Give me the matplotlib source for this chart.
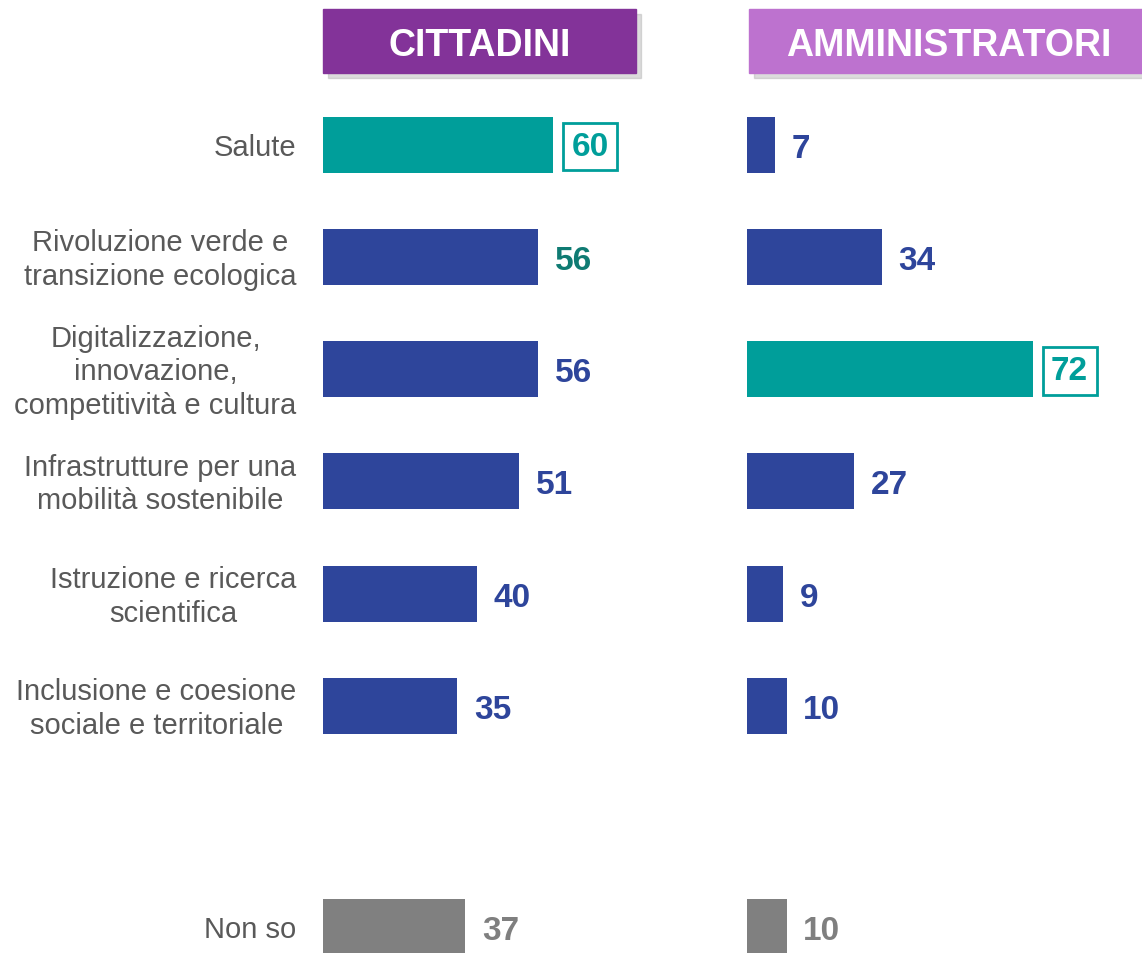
import numpy as np
import matplotlib.pyplot as plt
from matplotlib.patches import Rectangle

plt.rcParams['font.family'] = ['Liberation Sans', 'DejaVu Sans']

categories = ["Salute",
              "Rivoluzione verde e\ntransizione ecologica",
              "Digitalizzazione,\ninnovazione,\ncompetitività e cultura",
              "Infrastrutture per una\nmobilità sostenibile",
              "Istruzione e ricerca\nscientifica",
              "Inclusione e coesione\nsociale e territoriale",
              "Non so"]
positions = [0, 1, 2, 3, 4, 5, 6.97]
cittadini = [60, 56, 56, 51, 40, 35, 37]
amministratori = [7, 34, 72, 27, 9, 10, 10]

TEAL = "#009E9A"
BLUE = "#2E459B"
GREY = "#808080"
W, H = 1142, 954

fig = plt.figure(figsize=(W / 100, H / 100), dpi=100)


def px_axes(left, width):
    # axes from pixel y 90 down to the bottom of the figure
    return fig.add_axes([left / W, 0, width / W, (H - 90) / H])


def draw_panel(ax, values, top_idx, px_per_unit, width):
    ax.set_xlim(0, width / px_per_unit)
    ax.set_ylim((H - 147) / 112, -0.5)
    ax.axis("off")
    for i, (p, v) in enumerate(zip(positions, values)):
        if i == len(values) - 1:
            col, tcol = GREY, "#7F7F7F"
        elif i == top_idx:
            col, tcol = TEAL, TEAL
        else:
            col, tcol = BLUE, BLUE
        ax.barh(p, v, height=0.5, color=col)
        if i == top_idx:
            ax.annotate(str(v), (v, p), xytext=(26.5, -1), textcoords="offset points",
                        ha="center", va="center", fontsize=24, fontweight="bold", color=tcol,
                        bbox=dict(boxstyle="square,pad=0.25", fc="white", ec=TEAL, lw=2))
        else:
            ax.annotate(str(v), (v, p), xytext=(12, -2.5), textcoords="offset points",
                        ha="left", va="center", fontsize=24, fontweight="bold", color=tcol)


ax1 = px_axes(323, 400)
draw_panel(ax1, cittadini, 0, 3.84, 400)
# the second bar's value is in dark teal in the original
ax1.texts[1].set_color("#0F7B73")

ax2 = px_axes(747, 395)
draw_panel(ax2, amministratori, 2, 3.97, 395)

for p, c in zip(positions, categories):
    ax1.annotate(c, (0, p), xytext=(-19, -1.5), textcoords="offset points",
                 ha="right", va="center", fontsize=21, color="#595959",
                 multialignment="center", linespacing=1.26)

# header boxes
for x0, x1, label, col in [(323, 636, "CITTADINI", "#833399"),
                            (749, 1142, "AMMINISTRATORI", "#BD72CF")]:
    fig.patches.append(Rectangle(((x0 + 5) / W, 1 - 79 / H), (x1 - x0) / W, 64 / H,
                                 transform=fig.transFigure, color="#a8a8a8", alpha=0.4))
    fig.patches.append(Rectangle((x0 / W, 1 - 74 / H), (x1 - x0) / W, 64 / H,
                                 transform=fig.transFigure, color=col))
    fig.text((x0 + x1) / 2 / W + (0.003 if x1 >= W else 0), 1 - 46 / H, label,
             ha="center", va="center", fontsize=27, fontweight="bold", color="white")

fig.savefig("out.png", dpi=100)
